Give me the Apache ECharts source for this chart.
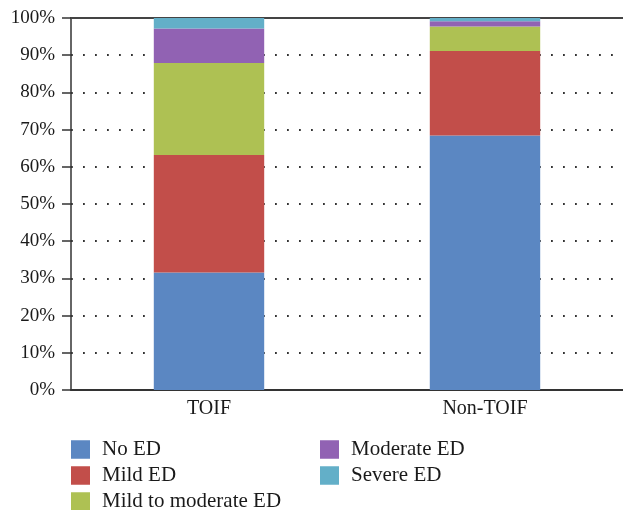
<!DOCTYPE html>
<html>
<head>
<meta charset="utf-8">
<script src="https://cdn.jsdelivr.net/npm/echarts@6/dist/echarts.min.js"></script>
<style>
html,body{margin:0;padding:0;background:#fff;}
#chart{width:623px;height:510px;}
</style>
</head>
<body>
<div id="chart"></div>
<script>
const categories = ['TOIF', 'Non-TOIF'];
const seriesNames = ['No ED', 'Mild ED', 'Mild to moderate ED', 'Moderate ED', 'Severe ED'];
const noED = [31.6, 68.4];
const mildED = [31.6, 22.7];
const mildToModerateED = [24.7, 6.6];
const moderateED = [9.3, 1.4];
const severeED = [2.8, 0.9];
const yTicks = [0, 10, 20, 30, 40, 50, 60, 70, 80, 90, 100];
const colors = ['#5B87C2', '#C24E4A', '#AEC153', '#9162B3', '#63AFC8'];

const values = [noED, mildED, mildToModerateED, moderateED, severeED];
const font = 'Liberation Serif, Times New Roman, serif';

// legend grid placement: column-major, 3 rows in first column
const legendCols = [71, 320];
const legendRows = [439, 465, 491];

const chart = echarts.init(document.getElementById('chart'), null, {renderer: 'canvas'});
chart.setOption({
  animation: false,
  color: colors,
  grid: {left: 71, top: 18, width: 555, height: 372, containLabel: false},
  xAxis: [{
    type: 'category',
    data: categories,
    position: 'bottom',
    axisLine: {show: true, lineStyle: {color: '#333', width: 2}},
    axisTick: {show: false},
    axisLabel: {fontFamily: font, fontSize: 20, color: '#1a1a1a', margin: 9},
    splitLine: {show: false}
  }, {
    type: 'category',
    data: categories,
    position: 'top',
    axisLine: {show: true, lineStyle: {color: '#444', width: 2}},
    axisTick: {show: false},
    axisLabel: {show: false},
    splitLine: {show: false}
  }],
  yAxis: {
    type: 'value',
    min: yTicks[0],
    max: yTicks[yTicks.length - 1],
    interval: 10,
    axisLine: {show: true, lineStyle: {color: '#333', width: 1.5}},
    axisTick: {show: true, inside: false, length: 9, lineStyle: {color: '#333', width: 1.5}},
    axisLabel: {fontFamily: font, fontSize: 19, color: '#1a1a1a', margin: 16,
      formatter: v => v + '%'},
    splitLine: {show: true, lineStyle: {color: '#333', width: 1.8, type: [1.8, 10.2], dashOffset: -12}}
  },
  legend: seriesNames.map((name, i) => ({
    orient: 'vertical',
    left: legendCols[i < 3 ? 0 : 1],
    top: legendRows[i < 3 ? i : i - 3],
    itemWidth: 19,
    itemHeight: 18.5,
    padding: 0,
    icon: 'rect',
    data: [name],
    textStyle: {fontFamily: font, fontSize: 21, color: '#1a1a1a', padding: [0, 0, 0, 7]}
  })),
  series: seriesNames.map((name, i) => ({
    name: name,
    type: 'bar',
    stack: 'total',
    barWidth: '40%',
    data: values[i],
    itemStyle: {color: colors[i]}
  }))
});
</script>
</body>
</html>
